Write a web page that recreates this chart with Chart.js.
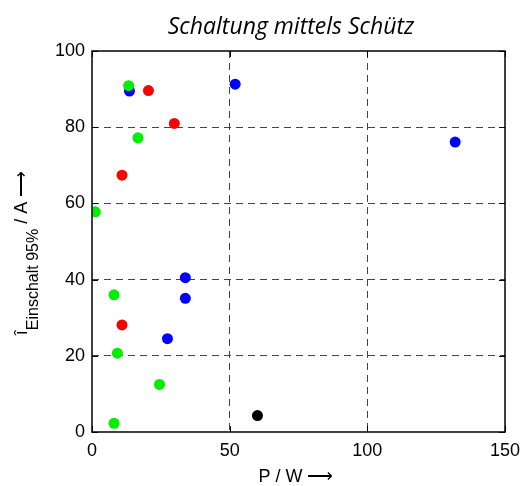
<!DOCTYPE html>
<html>
<head>
<meta charset="utf-8">
<script src="https://cdn.jsdelivr.net/npm/chart.js@4/dist/chart.umd.min.js"></script>
<style>
  html, body { margin: 0; padding: 0; background: #fff; }
  #wrap { width: 523px; height: 486px; }
</style>
</head>
<body>
<div id="wrap"><canvas id="chart"></canvas></div>
<script>
// measured inrush peaks per switching device
const greenP = [13.3, 16.7, 1.2, 8.0, 9.2, 24.5, 8.0];
const greenI = [90.9, 77.2, 57.8, 36.0, 20.7, 12.5, 2.3];
const redP = [20.5, 29.9, 10.9, 10.9];
const redI = [89.6, 81.0, 67.4, 28.1];
const blueP = [13.6, 52.0, 131.9, 33.9, 33.9, 27.4];
const blueI = [89.5, 91.3, 76.1, 40.5, 35.1, 24.5];
const blackP = [60.1];
const blackI = [4.3];

const xTicks = [0, 50, 100, 150];
const yTicks = [0, 20, 40, 60, 80, 100];

const TICK_FONT = { family: 'Liberation Sans, Arial, sans-serif', size: 18 };

const toPoints = (xs, ys) => xs.map((x, i) => ({ x, y: ys[i] }));

const series = (data, color, order) => ({
  data,
  backgroundColor: color,
  borderColor: color,
  borderWidth: 0,
  pointRadius: 5.5,
  pointHoverRadius: 5.5,
  order,
});

// frame, inward tick marks and the title texts
const decorations = {
  id: 'decorations',
  afterDatasetsDraw(chart) {
    const { ctx, chartArea: a, scales } = chart;
    ctx.save();
    ctx.strokeStyle = '#000';
    ctx.lineWidth = 1.5;
    ctx.strokeRect(a.left, a.top, a.right - a.left, a.bottom - a.top);

    ctx.lineWidth = 1;
    const len = 6;
    ctx.beginPath();
    xTicks.forEach(v => {
      const px = Math.round(scales.x.getPixelForValue(v)) + 0.5;
      ctx.moveTo(px, a.bottom); ctx.lineTo(px, a.bottom - len);
      ctx.moveTo(px, a.top); ctx.lineTo(px, a.top + len);
    });
    yTicks.forEach(v => {
      const py = Math.round(scales.y.getPixelForValue(v)) + 0.5;
      ctx.moveTo(a.left, py); ctx.lineTo(a.left + len, py);
      ctx.moveTo(a.right, py); ctx.lineTo(a.right - len, py);
    });
    ctx.stroke();

    ctx.fillStyle = '#000';
    ctx.textAlign = 'center';
    ctx.textBaseline = 'alphabetic';
    ctx.font = 'italic 23px "Open Sans", sans-serif';
    ctx.fillText('Schaltung mittels Schütz', 291, 34);

    ctx.font = '18px "Liberation Sans", Arial, sans-serif';
    ctx.fillText('P / W \u27f6', 296, 482);

    // rotated y label with subscript
    const main = '18px "Liberation Sans", Arial, sans-serif';
    const sub = '16px "Liberation Sans", Arial, sans-serif';
    const parts = [
      ['\u00ee', main, 0],
      ['Einschalt 95%', sub, 11],
      [' / A \u27f6', main, 0],
    ];
    let total = 0;
    parts.forEach(([t, f]) => { ctx.font = f; total += ctx.measureText(t).width; });
    ctx.translate(27, 253);
    ctx.rotate(-Math.PI / 2);
    ctx.textAlign = 'left';
    let x = -total / 2;
    parts.forEach(([t, f, dy]) => {
      ctx.font = f;
      ctx.fillText(t, x, dy);
      x += ctx.measureText(t).width;
    });
    ctx.restore();
  }
};

const gridColor = (hide) => (c) => (hide.includes(c.tick.value) ? 'rgba(0,0,0,0)' : '#444');

new Chart(document.getElementById('chart'), {
  type: 'scatter',
  data: {
    datasets: [
      series(toPoints(greenP, greenI), '#00ee00', 0),
      series(toPoints(redP, redI), '#ff0000', 1),
      series(toPoints(blueP, blueI), '#0000ff', 2),
      series(toPoints(blackP, blackI), '#000000', 0),
    ],
  },
  options: {
    responsive: true,
    maintainAspectRatio: false,
    animation: false,
    layout: { padding: { top: 51, right: 18, left: 0, bottom: 0 } },
    plugins: {
      legend: { display: false },
      tooltip: { enabled: false },
      title: { display: false },
    },
    scales: {
      x: {
        type: 'linear',
        min: 0,
        max: 150,
        afterBuildTicks: (s) => { s.ticks = xTicks.map(value => ({ value })); },
        afterFit: (s) => { s.height = 54; s.paddingLeft = 0; s.paddingRight = 0; },
        grid: { color: gridColor([0, 150]), drawTicks: false, lineWidth: 1 },
        border: { display: false, dash: [7, 5] },
        ticks: { color: '#000', font: TICK_FONT, padding: 8, maxRotation: 0 },
      },
      y: {
        type: 'linear',
        min: 0,
        max: 100,
        afterBuildTicks: (s) => { s.ticks = yTicks.map(value => ({ value })); },
        afterFit: (s) => { s.width = 92; s.paddingTop = 0; s.paddingBottom = 0; },
        grid: { color: gridColor([0, 100]), drawTicks: false, lineWidth: 1 },
        border: { display: false, dash: [7, 5] },
        ticks: { color: '#000', font: TICK_FONT, padding: 7 },
      },
    },
  },
  plugins: [decorations],
});
</script>
</body>
</html>
